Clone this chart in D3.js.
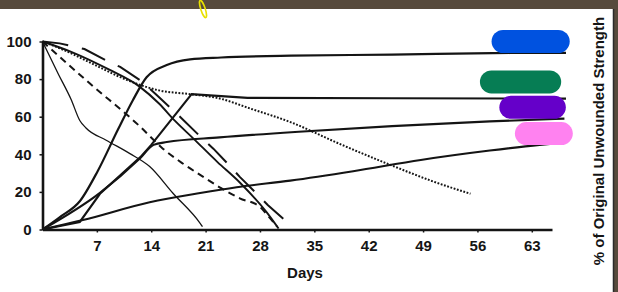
<!DOCTYPE html>
<html>
<head>
<meta charset="utf-8">
<script src="https://cdn.jsdelivr.net/npm/d3@7"></script>
<style>
  body { margin: 0; background: #574a3c; }
  svg { display: block; }
  text { font-family: "Liberation Sans", Arial, sans-serif; font-weight: bold; fill: #151515; }
</style>
</head>
<body>
<div id="chart"></div>
<script>
// tick values
var xTicks = [7, 14, 21, 28, 35, 42, 49, 56, 63];
var yTicks = [0, 20, 40, 60, 80, 100];

// series (days, % of unwounded strength)
var topDays = [0, 2.2, 4.8, 7.1, 9.7, 11.6, 13.4, 16, 19, 23, 32, 45, 58, 67.4];
var topVals = [0, 6.5, 15, 31, 53, 68.5, 81, 87.5, 90.5, 91.5, 92.5, 93, 93.8, 94];

var peakDays = [0, 4.8, 7.4, 12.6, 14, 19.2, 26.4, 45, 67.4];
var peakVals = [0, 4, 19, 38.5, 45, 72, 70, 69.8, 69.6];

var midDays = [0, 7.4, 12.6, 14.3, 16, 22.8, 33, 45, 57.6, 67.2];
var midVals = [0, 19.5, 38, 45, 46.5, 49, 52, 55, 57.5, 59];

var lowDays = [0, 5.2, 13.8, 20.3, 25, 31.9, 40, 48.7, 57.6, 64, 66.7];
var lowVals = [0, 5, 14.5, 19.4, 22.5, 26, 31, 37, 42, 45, 46];

var thinDays = [0, 2, 3.7, 4.8, 5.6, 8.2, 11.2, 13.8, 16.8, 20.3, 20.6];
var thinVals = [100, 83, 69, 58, 54, 47.5, 40.5, 33.5, 19.3, 3.3, 1.5];

var dashDays = [0, 6, 12.5, 15.5, 18.1, 20.7, 23, 25.4, 28, 29.1, 30.2];
var dashVals = [100, 78, 55, 43, 35, 28, 22, 16.6, 12, 7, 1.5];

var solidDownDays = [0, 4, 8.6, 12.5, 15, 17, 19.4, 22.5, 25.4, 28.9, 30.4];
var solidDownVals = [100, 94, 85, 76, 67, 58, 48.5, 36, 25, 9, 0.5];

var longDashDays = [0, 2.2, 5.4, 8.6, 10, 12.7, 14.7, 17.7, 20.3, 22, 24.2, 25.4, 27.7, 29, 31.6, 32];
var longDashVals = [100, 99, 96, 89, 86.5, 79, 71.5, 60, 49.5, 43, 33.5, 28, 18.5, 13, 3.5, 2];

var dotDays = [0, 3, 7, 9.5, 12.5, 15, 19, 22.5, 27, 32, 38, 45, 50, 55.1];
var dotVals = [100, 95, 87, 82, 77, 74, 72, 70, 64, 57, 46, 34, 26, 19];

// marker highlights drawn over the right ends
var markColors = ["#0052e0", "#067d54", "#6500c9", "#ff82f0"];
var markFrom = [59.3, 57.8, 60.3, 62.3];
var markTo = [66.4, 65.3, 65.9, 66.8];
var markAt = [100, 78.5, 65, 51];

var width = 618, height = 292;

var svg = d3.select("#chart").append("svg")
  .attr("width", width)
  .attr("height", height);

// scanned page frame
svg.append("rect").attr("x", 0).attr("y", 0).attr("width", width).attr("height", height).attr("fill", "#574a3c");
svg.append("rect").attr("x", 0).attr("y", 9).attr("width", 613).attr("height", 283).attr("fill", "#ffffff");
svg.append("line").attr("x1", 613.5).attr("x2", 613.5).attr("y1", 9).attr("y2", 292)
  .attr("stroke", "#2b2b2b").attr("stroke-width", 1.5);

var x = d3.scaleLinear().domain([0, 65.6]).range([42.5, 552]);
var y = d3.scaleLinear().domain([0, 100]).range([229.5, 41.5]);

function series(days, vals) {
  return days.map(function(d, i) { return [d, vals[i]]; });
}

var smooth = d3.line().x(function(d) { return x(d[0]); }).y(function(d) { return y(d[1]); }).curve(d3.curveMonotoneX);
var straight = d3.line().x(function(d) { return x(d[0]); }).y(function(d) { return y(d[1]); });

var lines = [
  {data: series(topDays, topVals), gen: smooth, w: 2.2, dash: null},
  {data: series(peakDays, peakVals), gen: straight, w: 2.1, dash: null},
  {data: series(midDays, midVals), gen: smooth, w: 2.1, dash: null},
  {data: series(lowDays, lowVals), gen: smooth, w: 2.1, dash: null},
  {data: series(thinDays, thinVals), gen: smooth, w: 1.3, dash: null},
  {data: series(dashDays, dashVals), gen: smooth, w: 2, dash: "7,5"},
  {data: series(solidDownDays, solidDownVals), gen: smooth, w: 1.9, dash: null},
  {data: series(longDashDays, longDashVals), gen: straight, w: 2, dash: "26,14"},
  {data: series(dotDays, dotVals), gen: smooth, w: 2, dash: "1.8,1.6"}
];

lines.forEach(function(l) {
  svg.append("path")
    .attr("d", l.gen(l.data))
    .attr("fill", "none")
    .attr("stroke", "#141414")
    .attr("stroke-width", l.w)
    .attr("stroke-dasharray", l.dash);
});

// axes
var xAxis = svg.append("g")
  .attr("transform", "translate(0," + y(0) + ")")
  .call(d3.axisBottom(x).tickValues(xTicks).tickSize(3).tickSizeOuter(0).tickPadding(7.5));
xAxis.select(".domain").attr("stroke", "#141414").attr("stroke-width", 2.6);
xAxis.selectAll(".tick line").attr("stroke", "#141414").attr("stroke-width", 1.5);
xAxis.selectAll("text").style("font-size", "15px").attr("fill", "#151515");

var yAxis = svg.append("g")
  .attr("transform", "translate(" + x(0) + ",0)")
  .call(d3.axisLeft(y).tickValues(yTicks).tickSize(3).tickSizeOuter(0).tickPadding(8));
yAxis.select(".domain").attr("stroke", "#141414").attr("stroke-width", 2.6);
yAxis.selectAll(".tick line").attr("stroke", "#141414").attr("stroke-width", 1.5);
yAxis.selectAll("text").style("font-size", "15px").attr("fill", "#151515");

svg.append("text")
  .attr("x", 305)
  .attr("y", 278)
  .attr("text-anchor", "middle")
  .style("font-size", "15px")
  .text("Days");

svg.append("text")
  .attr("transform", "translate(598.5,141) rotate(-90)")
  .attr("text-anchor", "middle")
  .attr("dy", "0.35em")
  .style("font-size", "15px")
  .text("% of Original Unwounded Strength");

// coloured marker strokes
markColors.forEach(function(c, i) {
  svg.append("line")
    .attr("x1", x(markFrom[i])).attr("x2", x(markTo[i]))
    .attr("y1", y(markAt[i])).attr("y2", y(markAt[i]))
    .attr("stroke", c)
    .attr("stroke-width", 23)
    .attr("stroke-linecap", "round");
});

// yellow pen scribble at the top
svg.append("ellipse")
  .attr("cx", 203).attr("cy", 9)
  .attr("rx", 2.2).attr("ry", 9)
  .attr("transform", "rotate(-18,203,9)")
  .attr("fill", "none")
  .attr("stroke", "#e8e000")
  .attr("stroke-width", 1.6);
</script>
</body>
</html>
